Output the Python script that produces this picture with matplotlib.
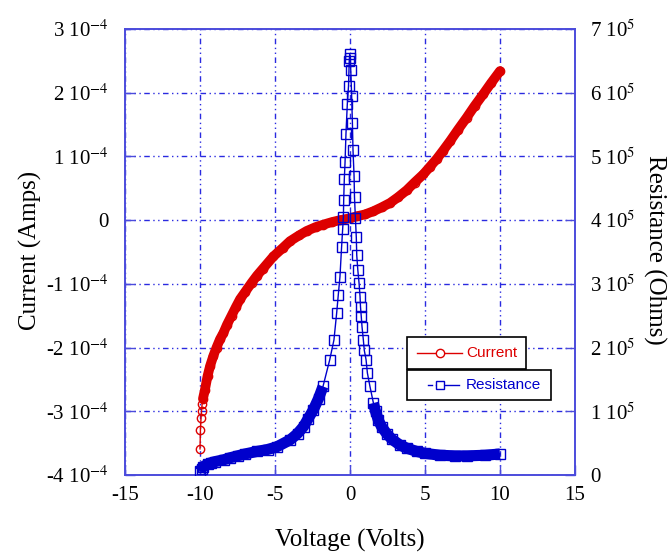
import numpy as np
import matplotlib
matplotlib.use("Agg")
import matplotlib.pyplot as plt
from matplotlib.patches import Rectangle
from matplotlib.lines import Line2D

# Current vs voltage (current in units of 1e-4 A)
volt_i = [-10.0, -9.97, -9.93, -9.9, -9.86, -9.8, -9.67, -9.5, -9.33, -9.11,
          -8.9, -8.67, -8.44, -8.2, -7.9, -7.6, -7.33, -7.0, -6.55, -6.2,
          -5.8, -5.11, -4.5, -4.0, -3.4, -2.89, -2.3, -1.78, -1.2, -0.67,
          0.0, 0.44, 1.0, 1.56, 2.1, 2.67, 3.2, 3.78, 4.3, 4.89, 5.3, 5.78,
          6.2, 6.67, 7.2, 7.78, 8.3, 8.89, 9.4, 10.0]
current = [-3.59, -3.29, -3.10, -3.0, -2.89, -2.80, -2.66, -2.45, -2.29, -2.13,
           -2.0, -1.87, -1.77, -1.64, -1.50, -1.36, -1.24, -1.13, -0.98, -0.87,
           -0.76, -0.57, -0.44, -0.33, -0.24, -0.17, -0.11, -0.07, -0.03, 0.0,
           0.03, 0.06, 0.09, 0.14, 0.20, 0.27, 0.36, 0.47, 0.59, 0.72, 0.83, 0.96,
           1.09, 1.24, 1.42, 1.61, 1.79, 1.98, 2.15, 2.34]

# Resistance vs voltage (resistance in units of 1e5 Ohm)
volt_r = [-10.0, -9.9, -9.8, -9.5, -9.3, -9.0, -8.4, -8.0, -7.5, -7.0, -6.2,
          -5.5, -4.9, -4.0, -3.5, -3.1, -2.8, -2.45, -2.1,
          -1.8, -1.35, -1.07, -0.89, -0.78, -0.67, -0.56, -0.49, -0.44, -0.42,
          -0.38, -0.33, -0.27, -0.18, -0.1, -0.05, -0.02,
          0.02, 0.05, 0.11, 0.16, 0.2, 0.27, 0.3, 0.36, 0.42, 0.45, 0.52, 0.6,
          0.67, 0.7, 0.75, 0.8, 0.89, 0.95, 1.07, 1.16, 1.33, 1.56, 1.7, 1.89,
          2.1, 2.44, 2.8, 3.33, 3.8, 4.44, 5.0, 6.0, 7.0, 7.8, 9.0, 10.0]
resist = [0.06, 0.10, 0.13, 0.17, 0.19, 0.21, 0.24, 0.27, 0.30, 0.33, 0.37,
          0.40, 0.44, 0.55, 0.65, 0.76, 0.88, 1.02, 1.20,
          1.39, 1.81, 2.12, 2.54, 2.83, 3.11, 3.58, 3.86, 4.05, 4.32,
          4.64, 4.91, 5.35, 5.82, 6.10, 6.50, 6.60,
          6.55, 6.36, 5.95, 5.53, 5.10, 4.70, 4.36, 4.03, 3.73, 3.45, 3.22, 3.02,
          2.80, 2.64, 2.49, 2.33, 2.12, 1.96, 1.81, 1.60, 1.39, 1.13, 1.00, 0.86,
          0.76, 0.65, 0.56, 0.47, 0.42, 0.37, 0.34, 0.31, 0.30, 0.30, 0.31, 0.33]

xticks = [-15, -10, -5, 0, 5, 10, 15]
left_ticks = [-4, -3, -2, -1, 0, 1, 2, 3]
right_ticks = [0, 1, 2, 3, 4, 5, 6, 7]

RED = "#dd0000"
BLUE = "#0000cc"
FRAME = "#4b4bdc"
GRID = "#2a2ae0"

plt.rcParams['font.family'] = ['Liberation Serif', 'DejaVu Serif']
plt.rcParams['mathtext.fontset'] = 'stix'

W, H = 669, 552
fig = plt.figure(figsize=(W / 100, H / 100), dpi=100)
ax = fig.add_axes([125 / W, 1 - 475 / H, 450 / W, 446 / H])
ax2 = ax.twinx()

vi = np.array(volt_i)
ci = np.array(current) * 1e-4
vr = np.array(volt_r)
rr = np.array(resist) * 1e5

# thick band where the markers sit on top of each other
band_i = vi >= -9.8
ax.plot(vi[band_i], ci[band_i], color=RED, lw=7, solid_capstyle='round',
        solid_joinstyle='round', zorder=3)
ax.plot(vi, ci, color=RED, lw=1, marker='o', ms=6, mfc='none', mec=RED, mew=1, zorder=4)

left_band = vr <= -1.8
right_band = vr >= 1.56
for m in (left_band, right_band):
    ax2.plot(vr[m], rr[m], color=BLUE, lw=8, solid_capstyle='butt',
             solid_joinstyle='round', zorder=3)
ax2.plot(vr, rr, color=BLUE, lw=1, marker='s', ms=7, mfc='none', mec=BLUE, mew=1, zorder=4)

ax.set_xlim(-15, 15)
ax.set_ylim(-4e-4, 3e-4)
ax2.set_ylim(0, 7e5)

ax.set_xticks(xticks)
ax.set_xticklabels([str(t) for t in xticks])
ax.set_yticks([t * 1e-4 for t in left_ticks])
ax.set_yticklabels([("0" if t == 0 else f"{t} 10$^{{-4}}$") for t in left_ticks])
ax2.set_yticks([t * 1e5 for t in right_ticks])
ax2.set_yticklabels([("0" if t == 0 else f"{t} 10$^{{5}}$") for t in right_ticks])

ax.tick_params(axis='both', direction='in', length=7, width=1, color=FRAME,
               labelsize=15, top=False, right=False)
ax.tick_params(axis='y', pad=12)
ax.tick_params(axis='x', pad=8)
ax2.tick_params(axis='y', direction='in', length=7, width=1, color=FRAME,
                labelsize=15, pad=11)

for a in (ax, ax2):
    for s in a.spines.values():
        s.set_color(FRAME)
        s.set_linewidth(1.2)

ax.grid(True, color=GRID, lw=1, linestyle=(0, (4, 2.5, 1, 2.5, 1, 2.5)))
ax.set_axisbelow(True)

fig.text(30 / W, 1 - 250 / H, "Current (Amps)", rotation=90, ha='center', va='center', fontsize=18)
fig.text(655 / W, 1 - 250 / H, "Resistance (Ohms)", rotation=270, ha='center', va='center', fontsize=18)
fig.text(350 / W, 1 - 540 / H, "Voltage (Volts)", ha='center', va='center', fontsize=18)

# legend drawn as two stacked boxes
def px(x, y):
    return x / W, 1 - y / H

for (x0, y0, x1, y1) in [(407, 337, 526, 369), (407, 370, 551, 400)]:
    fx, fy = px(x0, y1)
    fig.add_artist(Rectangle((fx, fy), (x1 - x0) / W, (y1 - y0) / H, transform=fig.transFigure,
                             facecolor='white', edgecolor='black', lw=1.2, zorder=10))

lx, ly = zip(px(417, 353), px(462, 353))
fig.add_artist(Line2D(lx, ly, color=RED, lw=1, transform=fig.transFigure, zorder=11))
fig.add_artist(Line2D([px(440, 353)[0]], [px(440, 353)[1]], marker='o', ms=6, mfc='white',
                      mec=RED, transform=fig.transFigure, zorder=12))
fig.text(px(466, 353)[0], px(466, 353)[1], "Current", color=RED, fontsize=11,
         family='Liberation Sans', va='center', ha='left', zorder=12)

lx, ly = zip(px(428, 385), px(432, 385))
fig.add_artist(Line2D(lx, ly, color=BLUE, lw=1, transform=fig.transFigure, zorder=11))
lx, ly = zip(px(436, 385), px(459, 385))
fig.add_artist(Line2D(lx, ly, color=BLUE, lw=1, transform=fig.transFigure, zorder=11))
fig.add_artist(Line2D([px(440, 385)[0]], [px(440, 385)[1]], marker='s', ms=6, mfc='white',
                      mec=BLUE, transform=fig.transFigure, zorder=12))
fig.text(px(466, 385)[0], px(466, 385)[1], "Resistance", color=BLUE, fontsize=11,
         family='Liberation Sans', va='center', ha='left', zorder=12)

fig.savefig("out.png", dpi=100)
